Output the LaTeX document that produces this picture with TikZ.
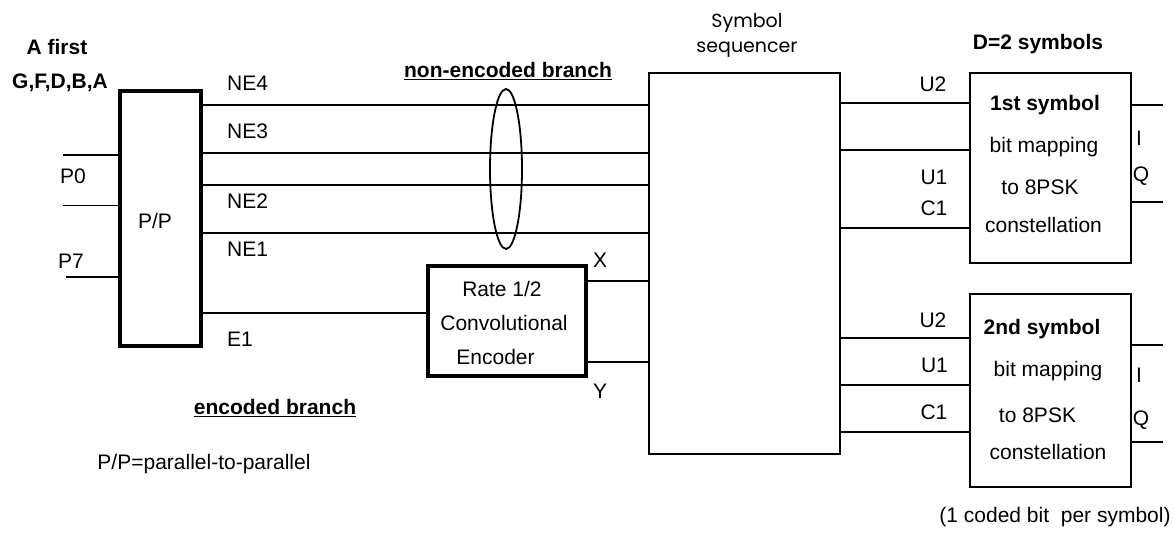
\documentclass[tikz,border=0pt]{standalone}
\usepackage{fontspec}
\setmainfont{Liberation Sans}
\newfontfamily\seqfont{Poppins}
\newcommand\lfs{\fontsize{21}{25}\selectfont}
\begin{document}
\begin{tikzpicture}[x=1pt,y=-1pt,
  lab/.style={font=\lfs, inner sep=0pt, anchor=base},
  labw/.style={lab, anchor=base west},
  blab/.style={lab, font=\lfs\bfseries},
  seqlab/.style={inner sep=0pt, anchor=base, font=\seqfont\fontsize{19}{23}\selectfont},
  thickbox/.style={draw, line width=4pt, inner sep=0pt, rectangle},
  thinbox/.style={draw, line width=1.8pt, inner sep=0pt, rectangle},
  wire/.style={line width=1.8pt},
  thinwire/.style={line width=1pt}]
\useasboundingbox (0,0) rectangle (1173,534);

% boxes
\node[thickbox, minimum width=81pt, minimum height=255pt] (pp) at (160.5,218.5) {};
\node[lab] (pplab) at (155,229) {P/P};
\node[thickbox, minimum width=158pt, minimum height=110pt] (enc) at (507,321) {};
\node[thinbox, minimum width=191pt, minimum height=381pt] (seq) at (744.5,263.5) {};
\node[thinbox, minimum width=161pt, minimum height=190pt] (m1) at (1050.5,168) {};
\node[thinbox, minimum width=161pt, minimum height=193pt] (m2) at (1050.5,390.5) {};

% encoder text
\node[lab] (e1t) at (502,297) {Rate 1/2};
\node[lab] (e2t) at (504,331) {Convolutional};
\node[lab] (e3t) at (495.5,365) {Encoder};

% sequencer label
\node[seqlab] (sq1) at (747,28) {Symbol};
\node[seqlab] (sq2) at (747,53) {sequencer};

% mapper texts
\node[blab] (m1a) at (1045,111) {1st symbol};
\node[lab] (m1b) at (1044,152.5) {bit mapping};
\node[lab] (m1c) at (1040,195) {to 8PSK};
\node[lab] (m1d) at (1043.5,233) {constellation};
\node[blab] (m2a) at (1042,335) {2nd symbol};
\node[lab] (m2b) at (1048,377) {bit mapping};
\node[lab] (m2c) at (1037.5,422.5) {to 8PSK};
\node[lab] (m2d) at (1048,460) {constellation};

% titles and notes
\node[blab] (afirst) at (57,55) {A first};
\node[blab] (gfdba) at (60,89) {G,F,D,B,A};
\node[blab] (nonenc) at (508,78) {\underline{non-encoded branch}};
\node[blab] (encb) at (275,415) {\underline{encoded branch}};
\node[lab] (ppdef) at (204,469) {P/P=parallel-to-parallel};
\node[blab] (dsym) at (1038,50) {D=2 symbols};
\node[lab] (coded) at (1055,522) {(1 coded bit\ \ per symbol)};

% left labels
\node[labw] (lp0) at (60,184) {P0};
\node[labw] (lp7) at (58,269) {P7};
\node[labw] (lne4) at (227,91) {NE4};
\node[labw] (lne3) at (227,139) {NE3};
\node[labw] (lne2) at (227,209) {NE2};
\node[labw] (lne1) at (227,257) {NE1};
\node[labw] (le1) at (227,347) {E1};
\node[lab] (lx) at (600,268) {X};
\node[lab] (ly) at (600,399) {Y};

% right labels
\node[lab] (lu2a) at (933,92) {U2};
\node[lab] (lu1a) at (934,185) {U1};
\node[lab] (lc1a) at (934,216) {C1};
\node[lab] (lu2b) at (933,328) {U2};
\node[lab] (lu1b) at (934.5,373) {U1};
\node[lab] (lc1b) at (934,420) {C1};
\node[lab] (li1) at (1139,146) {I};
\node[lab] (lq1) at (1141,182) {Q};
\node[lab] (li2) at (1139,383) {I};
\node[lab] (lq2) at (1141,426) {Q};

% input wires
\coordinate (p0) at (63,155);
\coordinate (pm) at (63,206);
\coordinate (p7) at (66,277);
\draw[wire] (p0) -- (p0 -| pp.west);
\draw[thinwire] (pm) -- (pm -| pp.west);
\draw[wire] (p7) -- (p7 -| pp.west);

% non-encoded wires
\coordinate (yne4) at (0,105);
\coordinate (yne3) at (0,153);
\coordinate (yne2) at (0,185);
\coordinate (yne1) at (0,233);
\foreach \c in {yne4,yne3,yne2,yne1}
  \draw[wire] (\c -| pp.east) -- (\c -| seq.west);

% bundle ellipse
\draw[wire] (506,169) ellipse [x radius=16, y radius=80];

% encoded branch
\coordinate (ye1) at (0,313);
\coordinate (yx) at (0,281);
\coordinate (yy) at (0,362);
\draw[wire] (ye1 -| pp.east) -- (ye1 -| enc.west);
\draw[wire] (yx -| enc.east) -- (yx -| seq.west);
\draw[wire] (yy -| enc.east) -- (yy -| seq.west);

% sequencer to mappers
\coordinate (r1) at (0,103);
\coordinate (r2) at (0,150);
\coordinate (r3) at (0,228);
\foreach \c in {r1,r2,r3}
  \draw[wire] (\c -| seq.east) -- (\c -| m1.west);
\coordinate (r4) at (0,338);
\coordinate (r5) at (0,385);
\coordinate (r6) at (0,432);
\foreach \c in {r4,r5,r6}
  \draw[wire] (\c -| seq.east) -- (\c -| m2.west);

% outputs
\coordinate (o1) at (1163,105);
\coordinate (o2) at (1163,202);
\coordinate (o3) at (1163,345);
\coordinate (o4) at (1163,442);
\draw[wire] (o1 -| m1.east) -- (o1);
\draw[wire] (o2 -| m1.east) -- (o2);
\draw[wire] (o3 -| m2.east) -- (o3);
\draw[wire] (o4 -| m2.east) -- (o4);
\end{tikzpicture}
\end{document}
